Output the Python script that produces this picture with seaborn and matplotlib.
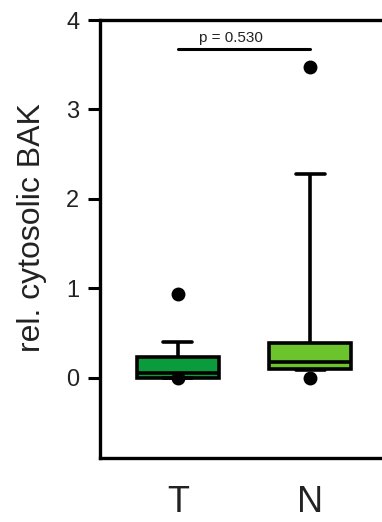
import matplotlib
matplotlib.use("Agg")
import matplotlib.pyplot as plt
import seaborn as sns
import pandas as pd

groups = ["T", "N"]
T_values = [-0.01, 0.0, 0.0, 0.0, 0.03, 0.05, 0.12, 0.22, 0.25, 0.40, 0.94]
N_values = [0.0, 0.08, 0.09, 0.10, 0.13, 0.17, 0.25, 0.35, 0.43, 2.28, 3.47]
box_colors = ["#0a9c3c", "#6cc42c"]
p_text = "p = 0.530"
y_ticks = [0, 1, 2, 3, 4]

df = pd.DataFrame({
    "group": ["T"] * len(T_values) + ["N"] * len(N_values),
    "value": T_values + N_values,
})

sns.set_style("white")
plt.rcParams["font.family"] = ["Liberation Sans", "DejaVu Sans"]
plt.rcParams["text.color"] = "#222222"
plt.rcParams["axes.labelcolor"] = "#222222"
plt.rcParams["xtick.color"] = "black"
plt.rcParams["ytick.color"] = "black"
plt.rcParams["xtick.labelcolor"] = "#222222"
plt.rcParams["ytick.labelcolor"] = "#222222"

fig = plt.figure(figsize=(3.82, 5.22), dpi=100)
ax = fig.add_axes([100 / 382, 64 / 522, 288 / 382, 438 / 522])

sns.boxplot(
    data=df, x="group", y="value", hue="group", order=groups, hue_order=groups,
    palette=box_colors, legend=False, ax=ax, width=0.62, whis=(10, 90),
    linecolor="black", linewidth=2.6, saturation=1,
    capwidths=0.22,
    flierprops=dict(marker="o", markersize=9, markerfacecolor="black",
                    markeredgecolor="black"),
)

ax.set_xlim(-0.59, 1.59)
ax.set_ylim(-0.9, 4)
ax.set_yticks(y_ticks)
ax.set_xlabel("")
ax.set_ylabel("rel. cytosolic BAK", fontsize=23)
ax.yaxis.set_label_coords(-0.184, 0.527)
ax.tick_params(axis="y", left=True, direction="out", length=9, width=2.2,
               labelsize=17, pad=6)
ax.tick_params(axis="x", bottom=False, labelsize=26, pad=16)
for s in ax.spines.values():
    s.set_linewidth(2.4)
    s.set_color("black")

ax.plot([0, 1], [3.67, 3.67], color="black", lw=2.2)
ax.text(0.40, 3.72, p_text, ha="center", va="bottom", fontsize=11)

fig.savefig("out.png", dpi=100)
